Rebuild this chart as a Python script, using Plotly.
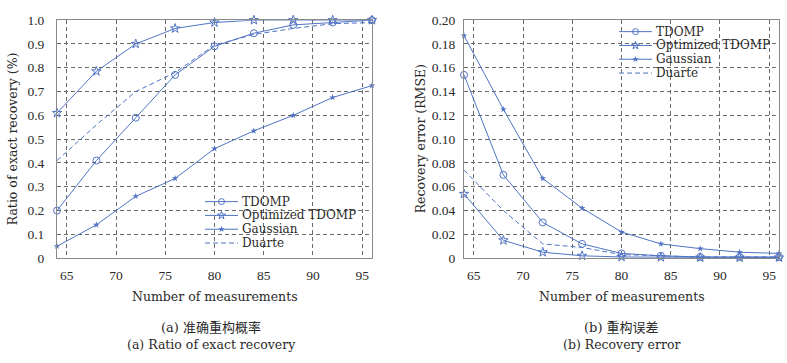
import plotly.graph_objects as go

measurements = [64, 68, 72, 76, 80, 84, 88, 92, 96]

ratio_tdomp = [0.20, 0.41, 0.59, 0.77, 0.89, 0.945, 0.98, 0.99, 1.00]
ratio_opt = [0.61, 0.785, 0.90, 0.965, 0.99, 1.00, 1.00, 1.00, 1.00]
ratio_gauss = [0.05, 0.14, 0.26, 0.335, 0.46, 0.535, 0.60, 0.675, 0.725]
ratio_duarte = [0.41, 0.56, 0.70, 0.78, 0.895, 0.94, 0.965, 0.985, 0.99]

rmse_tdomp = [0.154, 0.070, 0.030, 0.012, 0.004, 0.002, 0.001, 0.001, 0.001]
rmse_opt = [0.054, 0.015, 0.005, 0.002, 0.001, 0.0008, 0.0005, 0.0005, 0.0005]
rmse_gauss = [0.187, 0.125, 0.067, 0.042, 0.022, 0.012, 0.008, 0.005, 0.004]
rmse_duarte = [0.074, 0.040, 0.012, 0.009, 0.003, 0.002, 0.001, 0.001, 0.001]

x_ticks = [65, 70, 75, 80, 85, 90, 95]
ratio_ticks = [0, 0.1, 0.2, 0.3, 0.4, 0.5, 0.6, 0.7, 0.8, 0.9, 1.0]
ratio_ticklabels = ["0", "0.1", "0.2", "0.3", "0.4", "0.5", "0.6", "0.7", "0.8", "0.9", "1.0"]
rmse_ticks = [0, 0.02, 0.04, 0.06, 0.08, 0.10, 0.12, 0.14, 0.16, 0.18, 0.20]
rmse_ticklabels = ["0", "0.02", "0.04", "0.06", "0.08", "0.10", "0.12", "0.14", "0.16", "0.18", "0.20"]

series_names = ["TDOMP", "Optimized TDOMP", "Gaussian", "Duarte"]

W, H = 787, 363
BLUE = "#5073c4"
TXT = "#2a2a2a"
FONT = "DejaVu Serif, Liberation Serif, serif"
TICKFONT = "Liberation Serif, DejaVu Serif, serif"
CJK = "DejaVu Serif, Noto Sans CJK SC, serif"

marker_styles = [
    dict(symbol="circle-open", size=7, color=BLUE, line=dict(width=1)),
    dict(symbol="star-open", size=7, color=BLUE, line=dict(width=1)),
    dict(symbol="star", size=5, color=BLUE),
    None,
]
legend_marker_styles = [
    dict(symbol="circle-open", size=6, color=BLUE, line=dict(width=1)),
    dict(symbol="star-open", size=6, color=BLUE, line=dict(width=1)),
    dict(symbol="star", size=5, color=BLUE),
    None,
]
line_styles = [
    dict(color=BLUE, width=1),
    dict(color=BLUE, width=1),
    dict(color=BLUE, width=1),
    dict(color=BLUE, width=1, dash="5px,3px"),
]

fig = go.Figure()

def add_series(xa, ya, data):
    for name, ys, mk, ln in zip(series_names, data, marker_styles, line_styles):
        kw = dict(mode="lines+markers", marker=mk) if mk else dict(mode="lines")
        fig.add_trace(go.Scatter(x=measurements, y=ys, name=name, xaxis=xa, yaxis=ya,
                                 line=ln, showlegend=False, cliponaxis=False, **kw))

add_series("x", "y", [ratio_tdomp, ratio_opt, ratio_gauss, ratio_duarte])
add_series("x2", "y2", [rmse_tdomp, rmse_opt, rmse_gauss, rmse_duarte])

# Legend keys drawn in a pixel-based overlay axis (x3/y3)
def add_legend(x0, y0, row_gap=14.4, sample_len=33):
    anns = []
    for i, (name, mk, ln) in enumerate(zip(series_names, legend_marker_styles, line_styles)):
        yy = y0 + i * row_gap
        fig.add_trace(go.Scatter(x=[x0, x0 + sample_len], y=[yy, yy], mode="lines", line=ln,
                                 xaxis="x3", yaxis="y3", showlegend=False, hoverinfo="skip"))
        if mk:
            fig.add_trace(go.Scatter(x=[x0 + sample_len / 2], y=[yy], mode="markers", marker=mk,
                                     xaxis="x3", yaxis="y3", showlegend=False, hoverinfo="skip"))
        anns.append(dict(text=name, x=(x0 + sample_len + 2) / W, y=(H - yy) / H, xref="paper", yref="paper",
                         xanchor="left", yanchor="middle", showarrow=False,
                         font=dict(family=FONT, size=12, color=TXT)))
    return anns

legend_anns = add_legend(205, 203) + add_legend(619, 25.7)

axis_common = dict(showgrid=True, gridcolor="#6a6a6a", griddash="4px,3px", gridwidth=1,
                   showline=True, linecolor="#8a8a8a", linewidth=1, mirror=True,
                   ticks="outside", tickcolor="rgba(0,0,0,0)", zeroline=False,
                   tickfont=dict(family=TICKFONT, size=13.5, color=TXT))

fig.update_layout(
    width=W, height=H, autosize=False,
    margin=dict(l=0, r=0, t=0, b=0),
    paper_bgcolor="white", plot_bgcolor="rgba(0,0,0,0)",
    font=dict(family=FONT, size=12.5, color=TXT),
    showlegend=False,
    xaxis=dict(domain=[57 / W, 372 / W], range=[64, 96], tickvals=x_ticks, anchor="y", ticklen=5, **axis_common),
    yaxis=dict(domain=[(H - 262) / H, (H - 13.7) / H], range=[0, 1.0], tickvals=ratio_ticks,
               ticktext=ratio_ticklabels, anchor="x", ticklen=9, **axis_common),
    xaxis2=dict(domain=[464 / W, 779 / W], range=[64, 96], tickvals=x_ticks, anchor="y2", ticklen=5, **axis_common),
    yaxis2=dict(domain=[(H - 262) / H, (H - 13.7) / H], range=[0, 0.20], tickvals=rmse_ticks,
                ticktext=rmse_ticklabels, anchor="x2", ticklen=5, **axis_common),
    xaxis3=dict(domain=[0, 1], range=[0, W], visible=False, fixedrange=True, anchor="y3"),
    yaxis3=dict(domain=[0, 1], range=[H, 0], visible=False, fixedrange=True, anchor="x3"),
)

def cap(text, x, y, **kw):
    d = dict(text=text, x=x / W, y=(H - y) / H, xref="paper", yref="paper", showarrow=False,
             xanchor="center", yanchor="middle")
    d.update(kw)
    return d

ann = [
    cap("Number of measurements", 215, 302),
    cap("Number of measurements", 622, 302),
    cap("Ratio of exact recovery (%)", 12, 138, textangle=-90),
    cap("Recovery error (RMSE)", 420, 138, textangle=-90),
    cap("(a) 准确重构概率", 211, 334, font=dict(size=13, family=CJK)),
    cap("(a) Ratio of exact recovery", 211, 352),
    cap("(b) 重构误差", 621, 334, font=dict(size=13, family=CJK)),
    cap("(b) Recovery error", 621, 352),
]
fig.update_layout(annotations=ann + legend_anns)

css_fix = (
    "document.documentElement.style.margin='0';"
    "document.documentElement.style.padding='0';"
    "document.documentElement.style.overflow='hidden';"
    "document.body.style.margin='0';"
    "document.body.style.padding='0';"
    "document.body.style.overflow='hidden';"
)

fig.write_html("out.html", config={"displayModeBar": False}, post_script=css_fix)
